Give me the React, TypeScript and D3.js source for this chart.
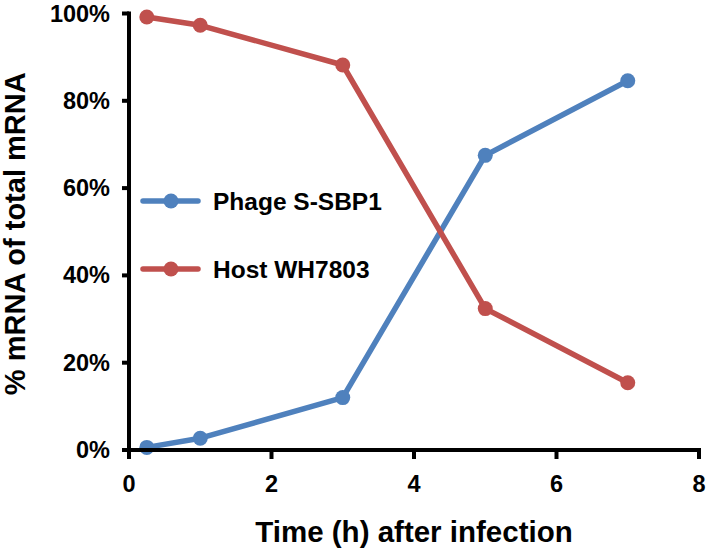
import * as d3 from "d3";

const hours = [0.25, 1, 3, 5, 7];
const phageShare = [0.006, 0.027, 0.12, 0.675, 0.846];
const hostShare = [0.992, 0.973, 0.882, 0.324, 0.154];
const xTicks = [0, 2, 4, 6, 8];
const yTicks = [0, 0.2, 0.4, 0.6, 0.8, 1];
const seriesNames = ["Phage S-SBP1", "Host WH7803"];
const seriesColors = ["#4F81BD", "#C0504D"];

export default function App() {
  const width = 709;
  const height = 552;
  const x = d3.scaleLinear().domain([0, 8]).range([129, 699]);
  const y = d3.scaleLinear().domain([0, 1]).range([450, 13.5]);
  const font = "Arial, 'Liberation Sans', sans-serif";
  const series = [phageShare, hostShare];
  const line = d3
    .line<number>()
    .x((_, i) => x(hours[i]))
    .y((v) => y(v));

  return (
    <svg
      width={width}
      height={height}
      viewBox={`0 0 ${width} ${height}`}
      style={{ position: "absolute", left: 0, top: 0, background: "#fff" }}
      fontFamily={font}
      fontWeight="bold"
    >
      {series.map((values, s) => (
        <g key={seriesNames[s]}>
          <path
            d={line(values) ?? ""}
            fill="none"
            stroke={seriesColors[s]}
            strokeWidth={5.5}
            strokeLinejoin="round"
          />
          {values.map((v, i) => (
            <circle key={i} cx={x(hours[i])} cy={y(v)} r={7.5} fill={seriesColors[s]} />
          ))}
        </g>
      ))}

      {/* axes */}
      <line x1={x(0)} x2={x(0)} y1={y(1) - 2} y2={y(0) + 2} stroke="#000" strokeWidth={4} />
      <line x1={x(0) - 2} x2={x(8) + 2} y1={y(0)} y2={y(0)} stroke="#000" strokeWidth={4} />
      {yTicks.map((t) => (
        <g key={t}>
          <line x1={x(0) - 7} x2={x(0)} y1={y(t)} y2={y(t)} stroke="#000" strokeWidth={4} />
          <text x={110} y={y(t) + 8} textAnchor="end" fontSize={23.5}>
            {d3.format(".0%")(t)}
          </text>
        </g>
      ))}
      {xTicks.map((t) => (
        <g key={t}>
          <line x1={x(t)} x2={x(t)} y1={y(0)} y2={y(0) + 9} stroke="#000" strokeWidth={4} />
          <text x={x(t)} y={492} textAnchor="middle" fontSize={23.5}>
            {t}
          </text>
        </g>
      ))}

      <text x={414} y={542} textAnchor="middle" fontSize={29.5}>
        Time (h) after infection
      </text>
      <text
        transform={`translate(25, ${(y(0) + y(1)) / 2 + 2}) rotate(-90)`}
        textAnchor="middle"
        fontSize={29}
      >
        % mRNA of total mRNA
      </text>

      {/* legend */}
      {seriesNames.map((name, s) => {
        const ly = 201 + s * 68;
        return (
          <g key={name}>
            <line x1={143} x2={198} y1={ly} y2={ly} stroke={seriesColors[s]} strokeWidth={5.5} strokeLinecap="round" />
            <circle cx={171} cy={ly} r={7.5} fill={seriesColors[s]} />
            <text x={213} y={ly + 9} fontSize={24.5}>
              {name}
            </text>
          </g>
        );
      })}
    </svg>
  );
}
